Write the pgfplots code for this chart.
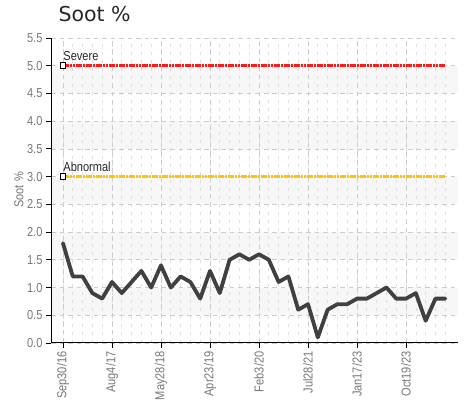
\documentclass[border=0pt]{standalone}
\usepackage{pgfplots}
\pgfplotsset{compat=1.18}
\usepackage{fontspec}
\setmainfont{Liberation Sans}
\newfontfamily\condfont[FakeStretch=0.85]{Liberation Sans}
\newfontfamily\titlefont{DejaVu Sans}
\definecolor{tickgray}{HTML}{777777}
\definecolor{bandgray}{HTML}{F7F7F7}
\definecolor{gridgray}{HTML}{CCCCCC}
\definecolor{minorgray}{HTML}{DEDEDE}
\definecolor{severered}{HTML}{FF1A1A}
\definecolor{abnormalgold}{HTML}{FFC400}
\definecolor{lineclr}{HTML}{404040}
\pgfplotstableread{
x y
0 1.8
1 1.2
2 1.2
3 0.9
4 0.8
5 1.1
6 0.9
7 1.1
8 1.3
9 1.0
10 1.4
11 1.0
12 1.2
13 1.1
14 0.8
15 1.3
16 0.9
17 1.5
18 1.6
19 1.5
20 1.6
21 1.5
22 1.1
23 1.2
24 0.6
25 0.7
26 0.1
27 0.6
28 0.7
29 0.7
30 0.8
31 0.8
32 0.9
33 1.0
34 0.8
35 0.8
36 0.9
37 0.4
38 0.8
39 0.8
}\soot
\begin{document}
\begin{tikzpicture}
\begin{axis}[
  set layers,
  at={(51pt,-343pt)}, anchor=south west,
  scale only axis, width=407pt, height=305pt,
  xmin=-1.22, xmax=40.3, ymin=0, ymax=5.5,
  axis x line*=bottom, axis y line*=left,
  axis line style={black, line width=1pt},
  xtick={0,5,10,15,20,25,30,35},
  xticklabels={Sep30/16, Aug4/17, May28/18, Apr23/19, Feb3/20, Jul28/21, Jan17/23, Oct19/23},
  minor xtick={0,...,39},
  ytick={0,0.5,1,1.5,2,2.5,3,3.5,4,4.5,5,5.5},
  yticklabel style={/pgf/number format/.cd, fixed, fixed zerofill, precision=1},
  /pgf/number format/assume math mode=true,
  tick label style={font=\condfont\fontsize{13}{13}\selectfont, text=tickgray},
  xticklabel style={rotate=90, anchor=east},
  tick align=outside,
  major tick length=5pt, minor tick length=0pt,
  tick style={black, line width=0.9pt},
  minor tick style={draw=none},
  grid=both,
  major grid style={gridgray, line width=0.7pt, dash pattern=on 4.5pt off 4pt},
  minor grid style={minorgray, line width=0.7pt, dash pattern=on 3pt off 5pt},
  ylabel={Soot \%},
  ylabel style={at={(axis description cs:-0.079,0.502)}, anchor=center, font=\condfont\fontsize{13}{13}\selectfont, text=tickgray},
  clip=false,
]
% background bands
\addplot[draw=none, fill=bandgray, on layer=axis background, forget plot] coordinates {(-1.22,0.5) (40.3,0.5) (40.3,1.0) (-1.22,1.0)} -- cycle;
\addplot[draw=none, fill=bandgray, on layer=axis background, forget plot] coordinates {(-1.22,1.5) (40.3,1.5) (40.3,2.0) (-1.22,2.0)} -- cycle;
\addplot[draw=none, fill=bandgray, on layer=axis background, forget plot] coordinates {(-1.22,2.5) (40.3,2.5) (40.3,3.0) (-1.22,3.0)} -- cycle;
\addplot[draw=none, fill=bandgray, on layer=axis background, forget plot] coordinates {(-1.22,3.5) (40.3,3.5) (40.3,4.0) (-1.22,4.0)} -- cycle;
\addplot[draw=none, fill=bandgray, on layer=axis background, forget plot] coordinates {(-1.22,4.5) (40.3,4.5) (40.3,5.0) (-1.22,5.0)} -- cycle;
% thresholds
\addplot[severered, line width=2.6pt, dash pattern=on 2.6pt off 0.7pt, mark=none] coordinates {(0,5) (39,5)};
\addplot[abnormalgold, line width=2.6pt, dash pattern=on 2.6pt off 0.7pt, mark=none] coordinates {(0,3) (39,3)};
\addplot[only marks, mark=square*, mark size=2.8pt,
  mark options={fill=white, draw=black, line width=0.9pt},
  point meta=explicit symbolic, nodes near coords,
  nodes near coords style={anchor=base west, inner sep=0pt, xshift=0pt, yshift=5pt,
    font=\condfont\fontsize{13}{13}\selectfont, text=black!85}]
  coordinates {(0,5) [Severe] (0,3) [Abnormal]};
% data
\addplot[lineclr, line width=3.8pt, line join=round, line cap=round, mark=none] table[x=x, y=y] {\soot};
\end{axis}
\node[anchor=base west, font=\titlefont\fontsize{20.5}{20.5}\selectfont, text=black!85] at (55pt,-22pt) {Soot \%};
\pgfresetboundingbox
\path (0,0) rectangle (467pt,-411pt);
\end{tikzpicture}
\end{document}
